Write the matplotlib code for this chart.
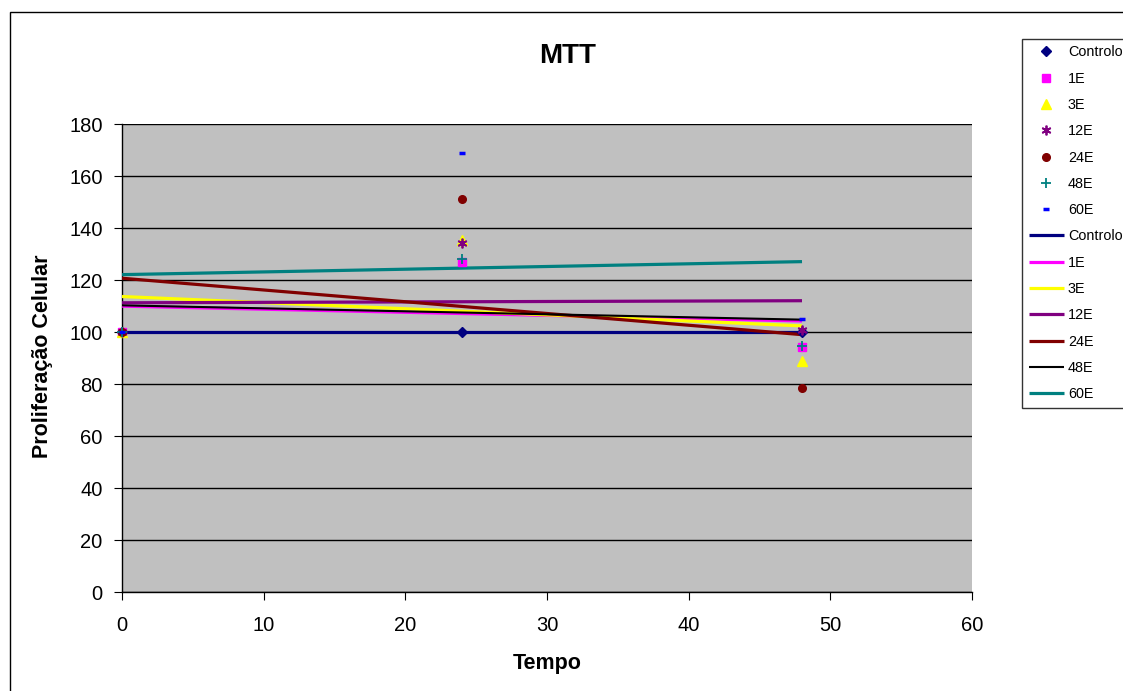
import numpy as np
import matplotlib
matplotlib.use("Agg")
import matplotlib.pyplot as plt
from matplotlib.patches import Rectangle

plt.rcParams['font.family'] = ['Liberation Sans', 'DejaVu Sans']

tempo = [0, 24, 48]
series_names = ["Controlo", "1E", "3E", "12E", "24E", "48E", "60E"]
controlo = [100, 100, 100]
e1 = [100, 127, 94.3]
e3 = [100, 135.3, 88.7]
e12 = [100, 134.1, 100.8]
e24 = [100, 151.2, 78.3]
e48 = [100, 128, 94.5]
e60 = [100, 168.7, 105]
values = [controlo, e1, e3, e12, e24, e48, e60]

marker_colors = ["#000080", "#FF00FF", "#FFFF00", "#800080", "#800000", "#008080", "#0000FF"]
markers = ["D", "s", "^", (6, 2, 0), "o", "+", "_"]
msizes = [5, 5.5, 6.5, 7, 5.5, 7, 5]
line_colors = ["#000080", "#FF00FF", "#FFFF00", "#800080", "#800000", "#000000", "#008080"]
line_widths = [2.3, 2.3, 2.3, 2.3, 2.3, 1.5, 2.3]

W, H = 1123, 691
fig = plt.figure(figsize=(W / 100, H / 100), dpi=100)
fig.patch.set_facecolor("white")

# outer chart border
fig.patches.append(Rectangle((10 / W, -0.05), 1.1, 1 - 12 / H + 0.05, transform=fig.transFigure,
                             fill=False, edgecolor="black", linewidth=1, zorder=0))

ax = fig.add_axes([122 / W, 1 - 592 / H, (972 - 122) / W, (592 - 124) / H])
ax.set_facecolor("#C0C0C0")
ax.set_xlim(0, 60)
ax.set_ylim(0, 180)
ax.set_xticks(range(0, 61, 10))
ax.set_yticks(range(0, 181, 20))
ax.yaxis.grid(True, color="black", linewidth=1)
ax.set_axisbelow(True)
for s in ["top", "right"]:
    ax.spines[s].set_visible(False)
for s in ["left", "bottom"]:
    ax.spines[s].set_color("black")
    ax.spines[s].set_linewidth(1)
ax.tick_params(axis="both", labelsize=14.5, length=6, direction="out")
ax.tick_params(axis="x", pad=11)
ax.tick_params(axis="y", pad=8)

handles = []
labels = []
# markers
for name, vals, c, m, ms in zip(series_names, values, marker_colors, markers, msizes):
    if m in ("+", "_", (6, 2, 0)):
        h, = ax.plot(tempo, vals, linestyle="none", marker=m, markersize=ms,
                     markeredgecolor=c, markerfacecolor=c, markeredgewidth=1.3 if m != "_" else 2.5,
                     clip_on=False, zorder=5)
    else:
        h, = ax.plot(tempo, vals, linestyle="none", marker=m, markersize=ms,
                     markeredgecolor=c, markerfacecolor=c, clip_on=False, zorder=5)
    handles.append(h)
    labels.append(name)

# linear trendlines
xs = np.array([min(tempo), max(tempo)])
for name, vals, c, lw in zip(series_names, values, line_colors, line_widths):
    k, b = np.polyfit(tempo, vals, 1)
    h, = ax.plot(xs, k * xs + b, color=c, linewidth=lw, zorder=4, solid_capstyle="butt")
    handles.append(h)
    labels.append(name)

fig.text(568 / W, 1 - 56 / H, "MTT", fontsize=20, fontweight="bold", ha="center", va="center")
fig.text(547 / W, 1 - 663 / H, "Tempo", fontsize=15.5, fontweight="bold", ha="center", va="center")
fig.text(43 / W, 1 - 356 / H, "Proliferação Celular", fontsize=15.5, fontweight="bold",
         ha="center", va="center", rotation=90)

leg = fig.legend(handles, labels, loc="upper left", bbox_to_anchor=(1022 / W, 1 - 39 / H),
                 fontsize=10.4, frameon=True, fancybox=False, edgecolor="black",
                 labelspacing=0.85, handlelength=2.45, handletextpad=0.28, borderpad=0.45,
                 borderaxespad=0)
leg.get_frame().set_linewidth(1)

fig.savefig("out.png", dpi=100, facecolor="white")
